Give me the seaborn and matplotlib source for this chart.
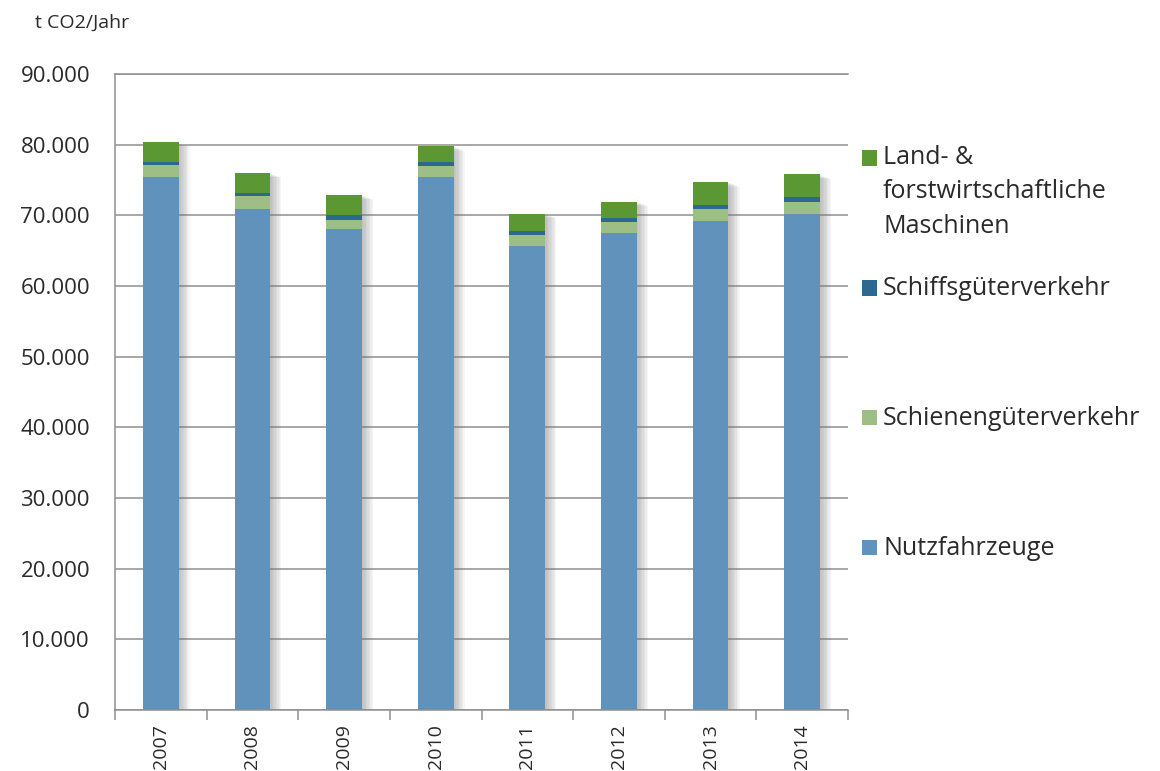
import matplotlib
matplotlib.use("Agg")
import matplotlib.pyplot as plt
import matplotlib.patheffects as pe
from matplotlib.patches import Rectangle
from matplotlib.ticker import FuncFormatter, FixedLocator
import numpy as np
import seaborn as sns

# CO2 emissions of freight transport by sector (t CO2 per year)
years = ["2007", "2008", "2009", "2010", "2011", "2012", "2013", "2014"]
nutzfahrzeuge = [75400, 70900, 68000, 75400, 65700, 67450, 69200, 70200]
schienengueter = [1700, 1800, 1400, 1600, 1500, 1650, 1700, 1650]
schiffsgueter = [500, 500, 600, 600, 650, 500, 500, 700]
land_forst = [2800, 2800, 2900, 2200, 2400, 2350, 3300, 3250]

series_names = ["Nutzfahrzeuge", "Schienengüterverkehr", "Schiffsgüterverkehr",
                "Land- &\nforstwirtschaftliche\nMaschinen"]
colors = ["#6192BB", "#9DBF86", "#2D6891", "#5B9733"]

sns.set_theme(style="white")
plt.rcParams["font.family"] = ["Open Sans", "DejaVu Sans"]

text_color = "#2a2a2a"
grid_color = "#8f8f8f"

fig = plt.figure(figsize=(11.6, 7.71), dpi=100)
W, H = 1160, 771
ax = fig.add_axes([115 / W, (H - 710) / H, (848 - 115) / W, (710 - 74) / H])

# cumulative heights, drawn from the top segment down so each overlays the previous
stack = np.array([nutzfahrzeuge, schienengueter, schiffsgueter, land_forst], dtype=float)
cum = np.cumsum(stack, axis=0)

# soft drop shadow built from several faint offset copies
soft_shadow = [pe.SimplePatchShadow(offset=(k, -k * 0.4), shadow_rgbFace="#7a7a7a", alpha=0.07)
               for k in range(1, 9)] + [pe.Normal()]

bar_w = 0.39
for level in range(3, -1, -1):
    n_before = len(ax.patches)
    sns.barplot(x=years, y=cum[level], color=colors[level], saturation=1,
                width=bar_w, ax=ax, linewidth=0)
    if level == 3:
        for p in ax.patches[n_before:]:
            p.set_path_effects(soft_shadow)

ax.set_ylim(0, 90000)
ax.set_xlim(-0.5, len(years) - 0.5)
ax.set_yticks(np.arange(0, 90001, 10000))
ax.yaxis.set_major_formatter(FuncFormatter(lambda v, _: f"{int(v):,}".replace(",", ".")))

ax.set_axisbelow(True)
ax.yaxis.grid(True, color=grid_color, linewidth=1.1)
ax.xaxis.grid(False)

for side in ["left", "bottom", "top"]:
    ax.spines[side].set_visible(True)
    ax.spines[side].set_color(grid_color)
    ax.spines[side].set_linewidth(1.1)
ax.spines["right"].set_visible(False)

ax.tick_params(axis="y", which="major", length=6, width=1.1, color=grid_color,
               direction="out", pad=12, labelsize=16, labelcolor=text_color)
ax.xaxis.set_minor_locator(FixedLocator(np.arange(-0.5, len(years), 1.0)))
ax.tick_params(axis="x", which="major", length=0, pad=10, labelsize=14,
               labelcolor=text_color, labelrotation=90)
ax.tick_params(axis="x", which="minor", length=7, width=1.1, color=grid_color,
               direction="out", bottom=True)
ax.set_xlabel("")
ax.set_ylabel("")

fig.text(35 / W, (H - 23) / H, "t CO2/Jahr", fontsize=14, color=text_color,
         ha="left", va="center")

# legend entries placed beside the plot: (series, square centre, last-line baseline)
legend_rows = [(3, 158, 233), (2, 288, 295), (1, 417, 425), (0, 547, 555)]
for idx, y_px, base_px in legend_rows:
    fig.patches.append(Rectangle((862 / W, (H - y_px - 7.5) / H), 15 / W, 15 / H,
                                 transform=fig.transFigure, facecolor=colors[idx],
                                 edgecolor="none"))
    fig.text(883 / W, (H - base_px) / H, series_names[idx], fontsize=18,
             color=text_color, ha="left", va="baseline", linespacing=1.5)

fig.savefig("out.png", dpi=100)
